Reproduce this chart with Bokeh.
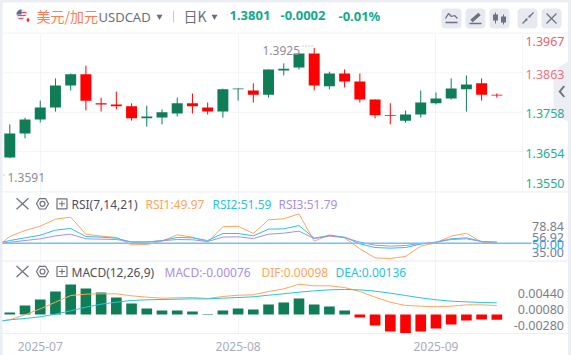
from bokeh.plotting import figure
from bokeh.layouts import column
from bokeh.models import Range1d, Label, Span, Grid, FixedTicker, PolyAnnotation, LinearAxis
from bokeh.embed import file_html
from bokeh.resources import INLINE

# ---- data ----
opens  = [1.3638,1.3702,1.3739,1.3771,1.3829,1.3859,1.3782,1.3779,1.3774,1.3742,1.3744,1.3755,1.3782,1.3771,1.3760,1.3819,1.3816,1.3805,1.3869,1.3877,1.3914,1.3827,1.3861,1.3840,1.3792,1.3750,1.3736,1.3752,1.3782,1.3795,1.3819,1.3835,1.3805]
closes = [1.3702,1.3739,1.3771,1.3829,1.3859,1.3789,1.3779,1.3774,1.3742,1.3747,1.3758,1.3782,1.3774,1.3760,1.3819,1.3821,1.3805,1.3872,1.3874,1.3914,1.3829,1.3861,1.3840,1.3792,1.3750,1.3748,1.3752,1.3784,1.3795,1.3821,1.3832,1.3805,1.3803]
highs  = [1.3726,1.3744,1.3789,1.3848,1.3861,1.3882,1.3797,1.3813,1.3782,1.3776,1.3766,1.3797,1.3808,1.3784,1.3821,1.3821,1.3835,1.3872,1.3888,1.3914,1.3929,1.3866,1.3872,1.3861,1.3792,1.3782,1.3763,1.3816,1.3811,1.3848,1.3856,1.3848,1.3808]
lows   = [1.3636,1.3689,1.3731,1.3760,1.3816,1.3763,1.3760,1.3766,1.3736,1.3720,1.3726,1.3747,1.3755,1.3752,1.3744,1.3789,1.3784,1.3797,1.3856,1.3872,1.3816,1.3819,1.3824,1.3784,1.3742,1.3726,1.3731,1.3744,1.3779,1.3792,1.3760,1.3789,1.3797]
price_ticks = [1.3967,1.3863,1.3758,1.3654,1.3550]
price_labels = ["1.3967","1.3863","1.3758","1.3654","1.3550"]

# indicator lines start one session before the first visible candle
rsi1 = [40.5,61.3,71.4,78.7,90.5,93.9,65.2,61.9,59.6,47.2,47.8,53.4,64.1,60.2,51.7,77.6,78.7,66.4,89.4,91.1,99.5,53.4,64.1,59.0,40.5,25.3,24.2,27.6,45.0,50.6,61.9,66.9,51.7,49.97]
rsi2 = [48.9,54.5,59.0,63.5,72.0,74.8,61.3,60.2,58.5,51.7,51.7,54.5,59.6,59.0,54.5,66.4,66.4,62.4,73.7,74.2,79.8,58.5,63.0,60.2,48.9,42.7,41.6,42.7,48.4,51.7,57.4,59.0,52.9,51.59]
rsi3 = [48.4,51.7,54.5,57.4,62.4,65.2,57.4,56.8,56.2,52.3,52.3,54.0,56.2,55.7,52.9,60.2,60.7,57.9,65.2,66.9,70.3,57.9,61.9,59.6,51.7,46.7,45.0,46.1,49.5,51.7,56.2,57.4,52.9,51.79]
rsi_mid = 50.0
macd = [.00029,.00132,.00221,.00338,.00441,.00382,.00324,.00250,.00162,.00088,.00059,.00059,.00044,.00006,.00059,.00088,.00074,.00147,.00176,.00235,.00147,.00118,.00059,-.00044,-.00162,-.00250,-.00279,-.00250,-.00206,-.00147,-.00088,-.00074,-.00076]
dif = [-.00113,-.00078,-.00005,.00083,.00181,.00279,.00299,.00304,.00304,.00275,.00255,.00240,.00245,.00250,.00235,.00265,.00284,.00289,.00338,.00377,.00446,.00422,.00422,.00397,.00338,.00255,.00181,.00132,.00123,.00113,.00123,.00142,.00142,.00132]
dea = [-.00103,-.00078,-.00059,-.00034,.00005,.00054,.00108,.00152,.00181,.00206,.00216,.00221,.00225,.00230,.00230,.00240,.00250,.00260,.00284,.00304,.00328,.00348,.00363,.00368,.00363,.00343,.00314,.00279,.00245,.00216,.00196,.00186,.00176,.00172]
month_ticks = [2,15,28]
month_labels = ["2025-07","2025-08","2025-09"]

# ---- styling / layout ----
FONT = "Noto Sans"
CJK = "Noto Sans CJK SC"
PAGE = "#eceef5"
GRID = "#f3f4f8"
UP, DOWN = "#0f7e57", "#ff0000"
ORANGE, CYAN, PURPLE = "#ffa45c", "#27c4e0", "#a98ee8"
AXIS_GREY = "#7a7e8c"
ICON = "#6e717e"
X0, DX = 9.3, 15.22     # pixel of candle 0, pixels per candle
xd = lambda px: (px - X0) / DX
xs = list(range(len(opens)))
xl = list(range(-1, len(opens)))
W = 566

def base(h, ylo, yhi, mb=0):
    p = figure(width=W, height=h, output_backend="svg", toolbar_location=None,
               x_axis_type=None, y_axis_type=None,
               x_range=Range1d(xd(2), xd(568)), y_range=Range1d(ylo, yhi),
               min_border_left=0, min_border_top=0, min_border_bottom=mb,
               min_border_right=0, margin=(0, 3, 0, 2),
               outline_line_color=None, background_fill_color="white", border_fill_color="white")
    p.add_layout(Grid(dimension=0, ticker=FixedTicker(ticks=month_ticks), grid_line_color=GRID, grid_line_width=1))
    return p

def lab(p, bottom_px, x, py, text, color, size="12px", font=FONT, align="left", style="normal"):
    p.add_layout(Label(x=x - 2, y=bottom_px - py, x_units="screen", y_units="screen", text=text,
                       text_color=color, text_font_size=size, text_font=font, text_align=align,
                       text_baseline="middle", text_font_style=style))

# ---- header ----
hd = figure(width=W, height=31, output_backend="svg", toolbar_location=None, x_axis_type=None, y_axis_type=None,
            x_range=Range1d(2, 568), y_range=Range1d(33, 2), min_border=0, margin=(2, 3, 0, 2),
            outline_line_color=None, background_fill_color="white", border_fill_color="white")
hd.segment(x0=[2], y0=[32.5], x1=[568], y1=[32.5], line_color=GRID, line_width=1)
# flags
hd.scatter([21], [14], size=11, marker="circle", fill_color="#f3e4e6", line_color=None)
hd.segment(x0=[17, 17, 18], y0=[12, 15, 18], x1=[26, 26, 25], y1=[12, 15, 18], line_color="#d8505a", line_width=1.2)
hd.wedge([21], [14], radius=5, start_angle=[1.57], end_angle=[3.14], direction="anticlock", fill_color="#5d6a92", line_color=None)
hd.scatter([27.5], [19.5], size=10, marker="circle", fill_color="white", line_color=None)
hd.scatter([27.5], [19.5], size=5, marker="diamond", fill_color="#e8352b", line_color=None)
hd.segment(x0=[23.5, 31.5], y0=[19.5, 19.5], x1=[23.5, 31.5], y1=[19.5, 19.5], line_color="#e8352b", line_width=3)
# dropdown triangles and divider
hd.scatter([159, 214], [16, 16], size=6, marker="inverted_triangle", fill_color="#6b6e7c", line_color=None)
hd.segment(x0=[173], y0=[10], x1=[173], y1=[22], line_color="#c9ccd6", line_width=1)
# buttons
hd.rect(x=[451, 475, 499, 527, 551], y=[18] * 5, width=20, height=20, fill_color="#e7e9f1", line_color=None, border_radius=4)
hd.line([445, 448, 451, 454, 457], [18, 13, 16, 15, 18], line_color=ICON, line_width=1.3)
hd.segment(x0=[445, 469], y0=[22, 23], x1=[457, 481], y1=[22, 23], line_color=ICON, line_width=1.5)
hd.segment(x0=[471], y0=[20.5], x1=[479], y1=[13.5], line_color=ICON, line_width=3.5)
hd.segment(x0=[495, 503], y0=[12, 14], x1=[495, 503], y1=[23, 24], line_color=ICON, line_width=1)
hd.quad(left=[492.5, 500.5], right=[497.5, 505.5], top=[14, 16], bottom=[20, 22], fill_color=ICON, line_color=None)
hd.segment(x0=[522, 529], y0=[23, 16], x1=[526, 533], y1=[19, 12], line_color=ICON, line_width=1.3)
hd.quad(left=[525, 528], right=[527, 530], top=[18, 15], bottom=[20, 17], fill_color=ICON, line_color=None)
hd.segment(x0=[546, 546], y0=[13, 23], x1=[556, 556], y1=[23, 13], line_color=ICON, line_width=1.3)
lab(hd, 33, 36, 15.5, "美元/加元", "#ff7b52", "14px", CJK)
lab(hd, 33, 98, 16.5, "USDCAD", "#6b6e7c", "13px")
lab(hd, 33, 183, 15.5, "日K", "#6b6e7c", "14px", CJK)
lab(hd, 33, 229, 15, "1.3801", "#11ab8c", "13px", FONT, style="bold")
lab(hd, 33, 280, 15, "-0.0002", "#11ab8c", "13px", FONT, style="bold")
lab(hd, 33, 338, 15, "-0.01%", "#11ab8c", "13px", FONT, style="bold")

# ---- candles ----
M_SCALE = 3766.0
m_top = 1.3863 + (72.3 - 33) / M_SCALE
m_bot = 1.3863 - (191 - 72.3) / M_SCALE
main = base(158, m_bot, m_top)
main.segment(x0=[xd(2)] * 3, y0=price_ticks[1:4], x1=[xd(522)] * 3, y1=price_ticks[1:4], line_color=GRID, line_width=1)
main.segment(x0=[xd(522)], y0=[m_bot], x1=[xd(522)], y1=[m_top], line_color=GRID, line_width=1)
colors = [UP if c >= o else DOWN for o, c in zip(opens, closes)]
main.segment(x0=xs, y0=lows, x1=xs, y1=highs, line_color=colors, line_width=1)
main.quad(left=[x - 0.36 for x in xs], right=[x + 0.36 for x in xs],
          top=[max(o, c) for o, c in zip(opens, closes)], bottom=[min(o, c) for o, c in zip(opens, closes)],
          fill_color=colors, line_color=None)
main.add_layout(PolyAnnotation(xs=[569 - 2, 553 - 2, 553 - 2, 569 - 2], ys=[191 - 60, 191 - 70, 191 - 113, 191 - 122],
                               xs_units="screen", ys_units="screen", fill_color="#eceef3", fill_alpha=1, line_color=None))
main.add_layout(PolyAnnotation(xs=[561, 556, 561, 562.5, 558.5, 562.5], ys=[191 - 85, 191 - 91, 191 - 97, 191 - 96, 191 - 91, 191 - 86],
                               xs_units="screen", ys_units="screen", fill_color=ICON, fill_alpha=1, line_color=None))
price_py = [40.5, 73.5, 113, 153, 182.5]
price_cols = ["#e8626e", "#e8757f", "#22ae94", "#22ae94", "#22ae94"]
for t, py, c in zip(price_labels, price_py, price_cols):
    lab(main, 191, 564, py, t, c, "12.5px", align="right")
lab(main, 191, 262, 49.5, "1.3925", "#8a8d99", "12px")
lab(main, 191, 7, 177, "1.3591", "#8a8d99", "12px")
main.segment(x0=[xd(302), xd(3)], y0=[m_top - (45.5 - 33) / M_SCALE, m_top - (174.5 - 33) / M_SCALE],
             x1=[xd(314), xd(5)], y1=[m_top - (45.5 - 33) / M_SCALE, m_top - (174.5 - 33) / M_SCALE],
             line_color="#9a9daa", line_width=1, line_dash="1 2")

def pane_icons(p, py, ytop_px, ybot_px, ylo, yhi):
    yv = lambda v: yhi - (v - ytop_px) * (yhi - ylo) / (ybot_px - ytop_px)
    p.segment(x0=[xd(16), xd(16)], y0=[yv(py - 5.5), yv(py + 5.5)], x1=[xd(28), xd(28)], y1=[yv(py + 5.5), yv(py - 5.5)],
              line_color=ICON, line_width=1.2)
    p.scatter([xd(42)], [yv(py)], size=12, marker="hex", fill_color=None, line_color=ICON, line_width=1.2)
    p.scatter([xd(42)], [yv(py)], size=5, marker="circle", fill_color=None, line_color=ICON, line_width=1.2)
    p.quad(left=[xd(56.5)], right=[xd(66.5)], top=[yv(py - 5)], bottom=[yv(py + 5)], fill_color=None, line_color=ICON, line_width=1.2)
    p.segment(x0=[xd(58.5), xd(61.5)], y0=[yv(py), yv(py - 3)], x1=[xd(64.5), xd(61.5)], y1=[yv(py), yv(py + 3)],
              line_color=ICON, line_width=1.1)

# ---- RSI ----
r_hi, r_lo = 137.2, 20.8
rsi = base(69, r_lo, r_hi)
rsi.add_layout(Span(location=r_hi - 0.8, dimension="width", line_color="#eff0f5", line_width=1))
rsi.line(xl, rsi1, line_color=ORANGE, line_width=1)
rsi.line(xl, rsi2, line_color=CYAN, line_width=1)
rsi.line(xl, rsi3, line_color=PURPLE, line_width=1)
rsi.segment(x0=[xd(2)], y0=[rsi_mid], x1=[xd(531)], y1=[rsi_mid], line_color="#72c2f5", line_width=1.5)
pane_icons(rsi, 203.3, 191, 260, r_lo, r_hi)
lab(rsi, 260, 71, 204, "RSI(7,14,21)", "#4d5060")
lab(rsi, 260, 145, 204, "RSI1:49.97", ORANGE)
lab(rsi, 260, 212, 204, "RSI2:51.59", CYAN)
lab(rsi, 260, 278, 204, "RSI3:51.79", PURPLE)
for t, py, c in zip(["78.84", "56.92", "35.00", "50.00"], [225.7, 237, 251.7, 243.5], [AXIS_GREY, AXIS_GREY, AXIS_GREY, "#2f9df0"]):
    lab(rsi, 260, 563.5, py, t, c, "12.5px", align="right")

# ---- MACD ----
P_SCALE = 6800.0
g_hi = (314 - 260) / P_SCALE
g_lo = -(333 - 314) / P_SCALE
mc = base(95, g_lo, g_hi, mb=22)
mc.add_layout(Span(location=g_hi - 0.8 / P_SCALE, dimension="width", line_color="#eff0f5", line_width=1))
ax = LinearAxis(ticker=FixedTicker(ticks=month_ticks),
                major_label_overrides={t: s for t, s in zip(month_ticks, month_labels)},
                axis_line_color="#eff0f5", major_tick_line_color=None, minor_tick_line_color=None,
                major_label_text_color="#a9acba", major_label_text_font=FONT, major_label_text_font_size="12px",
                major_label_standoff=2)
mc.add_layout(ax, "below")
mc.vbar(x=xs, bottom=0, top=macd, width=0.70, fill_color=[UP if v >= 0 else DOWN for v in macd], line_color=None)
mc.line(xl, dif, line_color=ORANGE, line_width=1)
mc.line(xl, dea, line_color=CYAN, line_width=1)
pane_icons(mc, 271, 260, 333, g_lo, g_hi)
lab(mc, 333, 71, 272, "MACD(12,26,9)", "#4d5060")
lab(mc, 333, 164, 272, "MACD:-0.00076", PURPLE)
lab(mc, 333, 261, 272, "DIF:0.00098", ORANGE)
lab(mc, 333, 335, 272, "DEA:0.00136", CYAN)
for t, py in zip(["0.00440", "0.00080", "-0.00280"], [293.3, 309.3, 324.7]):
    lab(mc, 333, 563.5, py, t, AXIS_GREY, "12.5px", align="right")

page = column(hd, main, rsi, mc, spacing=0, margin=0, styles={"background": PAGE})
html = file_html(page, INLINE)
# the reference fills the whole window, so the page's own margin is taken away
html = html.replace("<head>", "<head><style>html,body{margin:0;padding:0;overflow:hidden}</style>", 1)
open("out.html", "w").write(html)
